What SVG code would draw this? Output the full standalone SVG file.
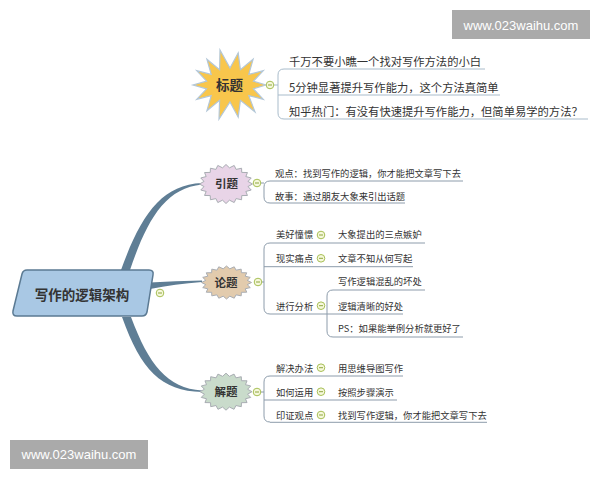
<svg xmlns="http://www.w3.org/2000/svg" xmlns:xlink="http://www.w3.org/1999/xlink" width="600" height="480" viewBox="0 0 600 480">
<style>
.t{font-family:"Noto Sans CJK SC","Liberation Sans",sans-serif;fill:#333}
.s{font-size:9.3px}
.h{font-size:11.3px}
.b{font-weight:bold;text-anchor:middle}
.ul{stroke:#8d9cab;stroke-width:1;fill:none}
.ul2{stroke:#a9bccb;stroke-width:1;fill:none}
.br{fill:#5f7e95}
.wm{fill:#aaaaaa}
.wt{font-family:"Liberation Sans",Arial,sans-serif;font-size:13px;fill:#fff;text-anchor:middle}
.seal{stroke:#a9adb3;stroke-width:1}
</style>
<defs>
<g id="col"><circle r="3.8" fill="#f6f8dc" stroke="#a7bf55" stroke-width="1"/><line x1="-2" y1="0" x2="2" y2="0" stroke="#8ea63e" stroke-width="1"/></g>
<polygon id="seal" points="1,0 0.8297,0.1314 0.9511,0.309 0.7484,0.3814 0.809,0.5878 0.594,0.594 0.5878,0.809 0.3814,0.7484 0.309,0.9511 0.1314,0.8297 0,1 -0.1314,0.8297 -0.309,0.9511 -0.3814,0.7484 -0.5878,0.809 -0.594,0.594 -0.809,0.5878 -0.7484,0.3814 -0.9511,0.309 -0.8297,0.1314 -1,0 -0.8297,-0.1314 -0.9511,-0.309 -0.7484,-0.3814 -0.809,-0.5878 -0.594,-0.594 -0.5878,-0.809 -0.3814,-0.7484 -0.309,-0.9511 -0.1314,-0.8297 0,-1 0.1314,-0.8297 0.309,-0.9511 0.3814,-0.7484 0.5878,-0.809 0.594,-0.594 0.809,-0.5878 0.7484,-0.3814 0.9511,-0.309 0.8297,-0.1314" vector-effect="non-scaling-stroke"/>
</defs>
<rect width="600" height="480" fill="#fff"/>

<g id="connectors">
<path class="br" d="M121 270 C141 215 161 185 202 183 L202 184.4 C165 188 147 220 130 270 Z"/>
<path class="br" d="M150 282.5 Q175 281 202 280.6 L202 282 Q175 284 150 289 Z"/>
<path class="br" d="M122 317 C141 370 161 391 202 392 L202 390.6 C167 388 149 365 131 317 Z"/>
<line class="ul2" x1="274" y1="85" x2="278" y2="85"/>
<path class="ul2" d="M284 69 Q278 69 278 75 L278 113 Q278 119 284 119"/>
<line class="ul" x1="261" y1="183" x2="264" y2="183"/>
<path class="ul" d="M270 181 Q264 181 264 187 L264 197 Q264 203 270 203"/>
<line class="ul" x1="262" y1="282" x2="264" y2="282"/>
<path class="ul" d="M270 243 Q264 243 264 249 L264 308 Q264 314 270 314"/>
<path class="ul" d="M333 290 Q327 290 327 296 L327 331 Q327 337 333 337"/>
<line class="ul" x1="261" y1="392" x2="264" y2="392"/>
<path class="ul" d="M270 376 Q264 376 264 382 L264 416 Q264 422 270 422"/>
</g>

<g id="root">
<path d="M27 270 L149 270 Q154 270 153 275 L147 312 Q146 316 142 316 L17 316 Q12 316 13 311 L22 274 Q23 270 27 270 Z" fill="#a9c8e4" stroke="#5b7a93" stroke-width="1.5"/>
<text class="t b" x="82" y="300" style="font-size:13.5px">写作的逻辑架构</text>
<use xlink:href="#col" x="160" y="293"/>
</g>

<g id="biaoti">
<polygon points="266,85 253.4,88.8 263.3,99.3 248.8,95.6 255,112 240.4,100.3 238.2,117.2 230,102 219,119 219.6,100.3 206.9,110.8 211.2,95.6 196.7,99.3 206.6,88.8 193,85 206.6,81.2 196.7,70.7 211.2,74.4 206.9,59.2 219.6,69.7 220,50 230,68 238.2,52.8 240.4,69.7 253.1,59.2 248.8,74.4 263.3,70.7 253.4,81.2" fill="#f8c64c" stroke="#b3c7d8" stroke-width="1.2"/>
<text class="t b" x="229.5" y="90" style="font-size:13.5px">标题</text>
<use xlink:href="#col" x="270" y="85"/>
</g>
<g id="biaoti-1"><text class="t h" x="289" y="65.5">千万不要小瞧一个找对写作方法的小白</text><line class="ul2" x1="284" y1="69" x2="485" y2="69"/></g>
<g id="biaoti-2"><text class="t h" x="289" y="91.5">5分钟显著提升写作能力，这个方法真简单</text><line class="ul2" x1="278" y1="95" x2="500" y2="95"/></g>
<g id="biaoti-3"><text class="t h" x="289" y="115.5">知乎热门：有没有快速提升写作能力，但简单易学的方法？</text><line class="ul2" x1="284" y1="119" x2="588" y2="119"/></g>

<g id="yinti">
<use xlink:href="#seal" transform="translate(226 184) scale(26.5 19.5)" fill="#e8d4e7" class="seal"/>
<text class="t b" x="226.5" y="188.4" style="font-size:11.5px">引题</text>
<use xlink:href="#col" x="257" y="183"/>
</g>
<g id="yinti-1"><text class="t s" x="275" y="177.3">观点：找到写作的逻辑，你才能把文章写下去</text><line class="ul" x1="270" y1="181" x2="463" y2="181"/></g>
<g id="yinti-2"><text class="t s" x="275" y="199.6">故事：通过朋友大象来引出话题</text><line class="ul" x1="270" y1="203" x2="405" y2="203"/></g>

<g id="lunti">
<use xlink:href="#seal" transform="translate(226.5 282.5) scale(25 16.5)" fill="#e2cbad" class="seal"/>
<text class="t b" x="226" y="286.8" style="font-size:11.5px">论题</text>
<use xlink:href="#col" x="258" y="282"/>
</g>
<g id="lunti-1"><text class="t s" x="276" y="238.3">美好憧憬</text><use xlink:href="#col" x="321" y="235"/><text class="t s" x="338" y="238.3">大象提出的三点嫉妒</text><line class="ul" x1="270" y1="243" x2="425" y2="243"/></g>
<g id="lunti-2"><text class="t s" x="276" y="261.8">现实痛点</text><use xlink:href="#col" x="321" y="258.3"/><text class="t s" x="338" y="261.8">文章不知从何写起</text><line class="ul" x1="264" y1="266.7" x2="413" y2="266.7"/></g>
<g id="lunti-3"><text class="t s" x="276" y="309.8">进行分析</text><use xlink:href="#col" x="321" y="305.7"/><line class="ul" x1="270" y1="314" x2="327" y2="314"/></g>
<g id="lunti-3-1"><text class="t s" x="338" y="285.3">写作逻辑混乱的坏处</text><line class="ul" x1="333" y1="290" x2="425" y2="290"/></g>
<g id="lunti-3-2"><text class="t s" x="338" y="309.8">逻辑清晰的好处</text><line class="ul" x1="327" y1="314" x2="403" y2="314"/></g>
<g id="lunti-3-3"><text class="t s" x="338" y="332.4">PS：如果能举例分析就更好了</text><line class="ul" x1="333" y1="337" x2="463" y2="337"/></g>

<g id="jieti">
<use xlink:href="#seal" transform="translate(226 391.7) scale(26 18.5)" fill="#c9dbcb" class="seal"/>
<text class="t b" x="226" y="396.2" style="font-size:11.5px">解题</text>
<use xlink:href="#col" x="257" y="392"/>
</g>
<g id="jieti-1"><text class="t s" x="276" y="372.3">解决办法</text><use xlink:href="#col" x="321" y="367.7"/><text class="t s" x="338" y="372.3">用思维导图写作</text><line class="ul" x1="270" y1="376" x2="403" y2="376"/></g>
<g id="jieti-2"><text class="t s" x="276" y="395.7">如何运用</text><use xlink:href="#col" x="321" y="391.7"/><text class="t s" x="338" y="395.7">按照步骤演示</text><line class="ul" x1="264" y1="400" x2="397" y2="400"/></g>
<g id="jieti-3"><text class="t s" x="276" y="418.8">印证观点</text><use xlink:href="#col" x="321" y="415"/><text class="t s" x="338" y="418.8">找到写作逻辑，你才能把文章写下去</text><line class="ul" x1="270" y1="422.3" x2="487" y2="422.3"/></g>

<g id="watermarks">
<rect class="wm" x="452" y="10" width="138" height="29"/>
<text class="wt" x="521" y="29.5">www.023waihu.com</text>
<rect class="wm" x="10" y="440" width="138" height="29"/>
<text class="wt" x="79" y="459.3">www.023waihu.com</text>
</g>
</svg>
